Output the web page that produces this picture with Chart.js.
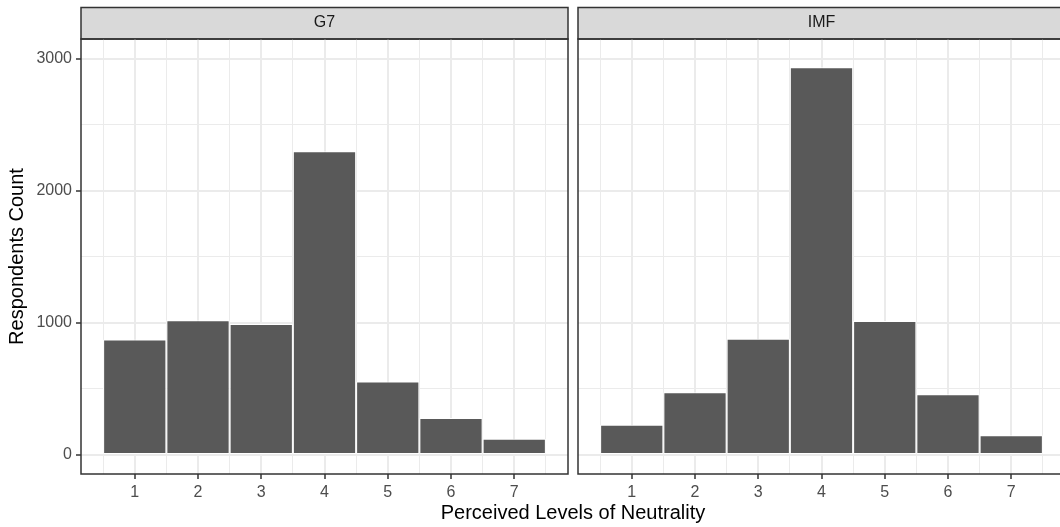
<!DOCTYPE html>
<html>
<head>
<meta charset="utf-8">
<script src="https://cdn.jsdelivr.net/npm/chart.js@4/dist/chart.umd.min.js"></script>
<style>
  html, body { margin: 0; padding: 0; background: #fff; width: 1060px; height: 527px; overflow: hidden; position: relative; }
  canvas { position: absolute; top: 0; }
  #c1 { left: 0; }
  #c2 { left: 574px; }
  #xtitle { position: absolute; left: 373px; width: 400px; top: 500px; text-align: center;
            font-family: "Liberation Sans", Arial, sans-serif; font-size: 20px; color: #000; line-height: 24px; }
</style>
</head>
<body>
<canvas id="c1" width="572" height="527"></canvas>
<canvas id="c2" width="496" height="527"></canvas>
<div id="xtitle">Perceived Levels of Neutrality</div>
<script>
const categories = [1, 2, 3, 4, 5, 6, 7];
const g7Counts  = [875, 1019, 991, 2299, 557, 280, 123];
const imfCounts = [229, 474, 880, 2935, 1014, 459, 149];
const panelLabels = ['G7', 'IMF'];
const xMajorTicks = [1, 2, 3, 4, 5, 6, 7];
const xMinorTicks = [0.5, 1.5, 2.5, 3.5, 4.5, 5.5, 6.5, 7.5];
const yMajorTicks = [0, 1000, 2000, 3000];
const yMinorTicks = [500, 1500, 2500];
const yTitle = 'Respondents Count';

const FONT = '"Liberation Sans", Arial, Helvetica, sans-serif';
Chart.defaults.font.family = FONT;

const panelPlugin = {
  id: 'panelDeco',
  beforeDraw(chart) {
    const { ctx, chartArea: a } = chart;
    ctx.save();
    ctx.fillStyle = '#D9D9D9';
    ctx.fillRect(a.left, 7.5, a.right - a.left, a.top - 7.5);
    ctx.strokeStyle = '#333333';
    ctx.lineWidth = 1.5;
    ctx.strokeRect(a.left, 7.5, a.right - a.left, a.top - 7.5);
    ctx.restore();
  },
  afterDraw(chart) {
    const { ctx, chartArea: a } = chart;
    ctx.save();
    ctx.strokeStyle = '#333333';
    ctx.lineWidth = 1.5;
    ctx.strokeRect(a.left, a.top, a.right - a.left, a.bottom - a.top);
    ctx.restore();
  }
};

function isMajorX(v) { return xMajorTicks.includes(v); }
function isMajorY(v) { return yMajorTicks.includes(v); }

function makeChart(id, label, counts, showY) {
  const data = categories.map((c, i) => ({ x: c, y: counts[i] }));
  return new Chart(document.getElementById(id), {
    type: 'bar',
    data: {
      datasets: [{
        data: data,
        backgroundColor: '#595959',
        borderColor: '#FFFFFF',
        borderWidth: 1,
        borderSkipped: false,
        // minimum sample spacing includes the half-step minor ticks, so 2.0 = one full unit
        barPercentage: 2.0,
        categoryPercentage: 1.0
      }]
    },
    options: {
      responsive: false,
      animation: false,
      devicePixelRatio: 1,
      layout: { padding: showY ? { top: 7, left: 0, right: 4, bottom: 0 } : { top: 7, left: 4, right: 5, bottom: 0 } },
      plugins: {
        legend: { display: false },
        tooltip: { enabled: false },
        title: {
          display: true,
          text: label,
          fullSize: false,
          color: '#1A1A1A',
          font: { size: 16, weight: 'normal', family: FONT, lineHeight: 1 },
          padding: { top: 8, bottom: 8 }
        }
      },
      scales: {
        x: {
          type: 'linear',
          min: 0.15,
          max: 7.85,
          offset: false,
          afterBuildTicks: (s) => { s.ticks = xMinorTicks.concat(xMajorTicks).sort((a, b) => a - b).map(v => ({ value: v })); },
          afterFit: (s) => { s.height = 53; },
          grid: {
            offset: false,
            color: '#EBEBEB',
            lineWidth: (c) => (c.tick && isMajorX(c.tick.value)) ? 2 : 1,
            tickColor: (c) => (c.tick && isMajorX(c.tick.value)) ? '#333333' : 'rgba(0,0,0,0)',
            tickLength: 5,
            tickWidth: 1.5
          },
          border: { display: false },
          ticks: {
            autoSkip: false,
            maxRotation: 0,
            padding: 4,
            color: '#4D4D4D',
            font: { size: 16, family: FONT },
            callback: (v) => isMajorX(v) ? String(v) : ''
          }
        },
        y: {
          type: 'linear',
          min: -144,
          max: 3149,
          afterBuildTicks: (s) => { s.ticks = yMinorTicks.concat(yMajorTicks).sort((a, b) => a - b).map(v => ({ value: v })); },
          afterFit: (s) => { s.width = showY ? 81 : 0; },
          grid: {
            color: '#EBEBEB',
            lineWidth: (c) => (c.tick && isMajorY(c.tick.value)) ? 2 : 1,
            tickColor: (c) => (c.tick && isMajorY(c.tick.value)) ? '#333333' : 'rgba(0,0,0,0)',
            drawTicks: showY,
            tickLength: 5,
            tickWidth: 1.5
          },
          border: { display: false },
          ticks: {
            display: showY,
            padding: 4,
            color: '#4D4D4D',
            font: { size: 16, family: FONT },
            callback: (v) => isMajorY(v) ? String(v) : ''
          },
          title: {
            display: showY,
            text: yTitle,
            color: '#000000',
            font: { size: 20, family: FONT },
            padding: { top: 5, bottom: 0 }
          }
        }
      }
    },
    plugins: [panelPlugin]
  });
}

makeChart('c1', panelLabels[0], g7Counts, true);
makeChart('c2', panelLabels[1], imfCounts, false);
</script>
</body>
</html>
